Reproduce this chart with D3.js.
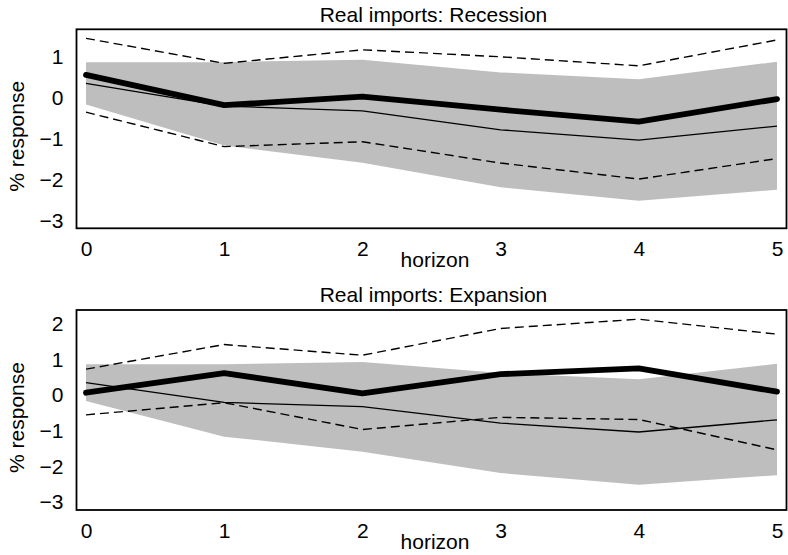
<!DOCTYPE html>
<html>
<head>
<meta charset="utf-8">
<script src="https://cdn.jsdelivr.net/npm/d3@7"></script>
<style>
  html, body { margin: 0; padding: 0; background: #fff; }
  svg { display: block; font-family: "Liberation Sans", Arial, sans-serif; }
</style>
</head>
<body>
<svg id="chart" width="788" height="555"></svg>
<script>
// ---- data ----
const horizons = [0, 1, 2, 3, 4, 5];
const xTickLabels = ["0", "1", "2", "3", "4", "5"];

// linear model response (shared by both panels): point estimate and band
const linearPoint = [0.33, -0.22, -0.34, -0.80, -1.05, -0.71];
const linearUpper = [0.85, 0.85, 0.91, 0.60, 0.43, 0.86];
const linearLower = [-0.18, -1.18, -1.60, -2.20, -2.53, -2.26];

// recession state
const recessionPoint = [0.54, -0.20, 0.01, -0.31, -0.60, -0.05];
const recessionUpper = [1.43, 0.82, 1.15, 0.98, 0.76, 1.39];
const recessionLower = [-0.37, -1.21, -1.09, -1.61, -2.00, -1.50];

// expansion state
const expansionPoint = [0.05, 0.60, 0.03, 0.57, 0.73, 0.08];
const expansionUpper = [0.71, 1.40, 1.10, 1.85, 2.11, 1.69];
const expansionLower = [-0.57, -0.23, -0.98, -0.64, -0.70, -1.55];

const recessionTicks = [1, 0, -1, -2, -3];
const expansionTicks = [2, 1, 0, -1, -2, -3];

const panels = [
  { title: "Real imports: Recession", point: recessionPoint, upper: recessionUpper, lower: recessionLower,
    ticks: recessionTicks, domain: [-3.2, 1.65], top: 29.3, bottom: 228.3 },
  { title: "Real imports: Expansion", point: expansionPoint, upper: expansionUpper, lower: expansionLower,
    ticks: expansionTicks, domain: [-3.235, 2.367], top: 310, bottom: 510 }
];

// ---- drawing ----
const svg = d3.select("#chart");
const left = 76.5, right = 786.5;
const fontSize = 21;
const x = d3.scaleLinear().domain([0, 5]).range([86, 777]);

panels.forEach(p => {
  const y = d3.scaleLinear().domain(p.domain).range([p.bottom, p.top]);
  const g = svg.append("g");

  // band
  const area = d3.area()
    .x((d, i) => x(horizons[i]))
    .y0((d, i) => y(linearLower[i]))
    .y1((d, i) => y(linearUpper[i]));
  g.append("path").datum(horizons).attr("d", area).attr("fill", "#bebebe");

  const line = arr => d3.line().x((d, i) => x(horizons[i])).y((d, i) => y(arr[i]))(arr);

  g.append("path").attr("d", line(linearPoint)).attr("fill", "none")
    .attr("stroke", "#000").attr("stroke-width", 1.3);
  g.append("path").attr("d", line(p.upper)).attr("fill", "none")
    .attr("stroke", "#000").attr("stroke-width", 1.4).attr("stroke-dasharray", "9,5");
  g.append("path").attr("d", line(p.lower)).attr("fill", "none")
    .attr("stroke", "#000").attr("stroke-width", 1.4).attr("stroke-dasharray", "9,5");
  g.append("path").attr("d", line(p.point)).attr("fill", "none")
    .attr("stroke", "#000").attr("stroke-width", 5.8)
    .attr("stroke-linecap", "round").attr("stroke-linejoin", "round");

  // box
  g.append("rect").attr("x", left).attr("y", p.top)
    .attr("width", right - left).attr("height", p.bottom - p.top)
    .attr("fill", "none").attr("stroke", "#000").attr("stroke-width", 1.8);

  // y axis labels (no tick marks)
  const yAxis = d3.axisLeft(y).tickValues(p.ticks).tickSize(0)
    .tickFormat(d => d < 0 ? "\u2212" + Math.abs(d) : String(d));
  const ya = g.append("g").attr("transform", `translate(${left - 13},0)`).call(yAxis);
  ya.select(".domain").remove();
  ya.selectAll("text").attr("font-size", fontSize).attr("font-family", "Liberation Sans, Arial, sans-serif")
    .attr("fill", "#000").attr("x", 0).attr("dy", "0.35em");

  // x axis labels
  const xAxis = d3.axisBottom(x).tickValues(horizons).tickSize(0)
    .tickFormat((d, i) => xTickLabels[i]);
  const xa = g.append("g").attr("transform", `translate(0,${p.bottom})`).call(xAxis);
  xa.select(".domain").remove();
  xa.selectAll("text").attr("font-size", fontSize).attr("font-family", "Liberation Sans, Arial, sans-serif")
    .attr("fill", "#000").attr("y", 27.7).attr("dy", 0);

  // axis title
  g.append("text").attr("x", 435).attr("y", p.bottom + 38.5)
    .attr("text-anchor", "middle").attr("font-size", fontSize).text("horizon");

  g.append("text")
    .attr("transform", `translate(${24},${(p.top + p.bottom) / 2 + 7.5}) rotate(-90)`)
    .attr("text-anchor", "middle").attr("font-size", fontSize).text("% response");

  // title
  g.append("text").attr("x", 433.5).attr("y", p.top - 7.6)
    .attr("text-anchor", "middle").attr("font-size", fontSize).text(p.title);
});
</script>
</body>
</html>
